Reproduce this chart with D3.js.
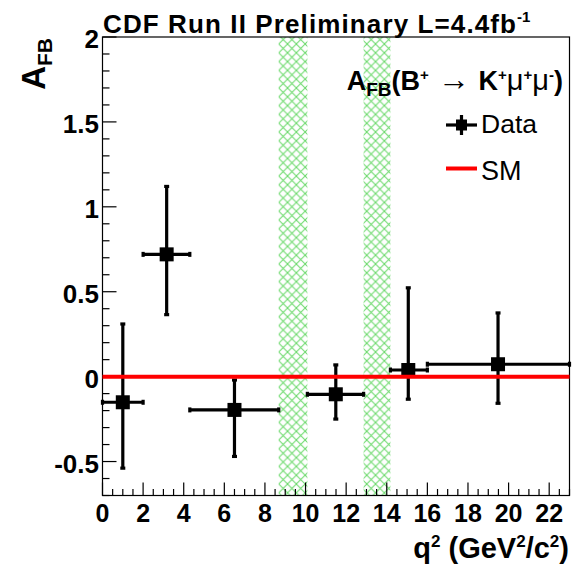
<!DOCTYPE html>
<html lang="en">
<head>
  <meta charset="UTF-8">
  <title>CDF AFB B+ -> K+ mu+ mu-</title>
  <script src="https://d3js.org/d3.v7.min.js"></script>
  <style>
    html, body { margin: 0; padding: 0; background: #fff; }
    svg text { font-family: "Liberation Sans", Arial, sans-serif; fill: #000; }
  </style>
</head>
<body>
<svg id="chart" width="579" height="569"></svg>
<script>
// data
const binLo  = [0, 2, 4.3, 10.09, 14.18, 16];
const binHi  = [2, 4.3, 8.68, 12.86, 16, 23];
const q2     = [1.0, 3.16, 6.5, 11.49, 15.06, 19.48];
const afb    = [-0.151, 0.72, -0.196, -0.104, 0.039, 0.073];
const afbHi  = [0.31, 1.12, -0.02, 0.069, 0.523, 0.375];   // top of error bar
const afbLo  = [-0.539, 0.365, -0.47, -0.25, -0.133, -0.157]; // bottom of error bar
const vetoLo = [8.68, 12.86];
const vetoHi = [10.09, 14.18];
const smValue = 0;
const xTicks = d3.range(0, 23, 2);
const yTicks = [-0.5, 0, 0.5, 1, 1.5, 2];

const svg = d3.select('#chart');
const padL = 102.5, padR = 569.5, padT = 37, padB = 495.5;

const x = d3.scaleLinear().domain([0, 23]).range([padL, padR]);
const y = d3.scaleLinear().domain([-0.7, 2]).range([padB, padT]);

// hatch pattern for the vetoed regions
const defs = svg.append('defs');
const pat = defs.append('pattern')
  .attr('id', 'hatch')
  .attr('patternUnits', 'userSpaceOnUse')
  .attr('x', x(vetoLo[0]))
  .attr('width', 8.8).attr('height', 8.8);
pat.append('path').attr('d', 'M0,0 L8.8,8.8 M8.8,0 L0,8.8')
  .attr('stroke', '#66d866').attr('stroke-width', 1).attr('fill', 'none');

svg.append('g').selectAll('rect')
  .data(vetoLo)
  .enter().append('rect')
  .attr('x', (d, i) => x(d))
  .attr('width', (d, i) => x(vetoHi[i]) - x(d))
  .attr('y', padT)
  .attr('height', padB - padT)
  .attr('fill', 'url(#hatch)');

// frame
svg.append('rect')
  .attr('x', padL).attr('y', padT)
  .attr('width', padR - padL).attr('height', padB - padT)
  .attr('fill', 'none').attr('stroke', '#000').attr('stroke-width', 1.2);

// ticks (drawn inward like ROOT)
const ticks = svg.append('g').attr('stroke', '#000').attr('stroke-width', 1.2);
d3.range(0, 23.01, 0.5).forEach(v => {
  const major = Math.abs(v % 2) < 1e-6;
  ticks.append('line')
    .attr('x1', x(v)).attr('x2', x(v))
    .attr('y1', padB).attr('y2', padB - (major ? 13 : 6.5));
});
d3.range(-0.7, 2.001, 0.1).forEach(v => {
  const major = Math.abs(Math.round(v * 10) % 5) === 0;
  ticks.append('line')
    .attr('x1', padL).attr('x2', padL + (major ? 14 : 7))
    .attr('y1', y(v)).attr('y2', y(v));
});

// tick labels
svg.append('g').selectAll('text')
  .data(xTicks)
  .enter().append('text')
  .attr('x', d => x(d))
  .attr('y', 522)
  .attr('text-anchor', 'middle')
  .attr('font-size', 25)
  .attr('font-weight', 'bold')
  .text(d => d);

svg.append('g').selectAll('text')
  .data(yTicks)
  .enter().append('text')
  .attr('x', 99)
  .attr('y', d => y(d) + 11)
  .attr('text-anchor', 'end')
  .attr('font-size', 26)
  .attr('font-weight', 'bold')
  .text(d => d);

// axis titles
const xt = svg.append('text')
  .attr('x', 569).attr('y', 558)
  .attr('text-anchor', 'end')
  .attr('font-size', 29)
  .attr('font-weight', 'bold');
xt.append('tspan').text('q');
xt.append('tspan').attr('font-size', 17).attr('dy', -11).text('2');
xt.append('tspan').attr('dy', 11).text(' (GeV');
xt.append('tspan').attr('font-size', 17).attr('dy', -11).text('2');
xt.append('tspan').attr('dy', 11).text('/c');
xt.append('tspan').attr('font-size', 17).attr('dy', -11).text('2');
xt.append('tspan').attr('dy', 11).text(')');

const yt = svg.append('text')
  .attr('transform', 'translate(45,38) rotate(-90)')
  .attr('text-anchor', 'end')
  .attr('font-size', 33)
  .attr('font-weight', 'bold');
yt.append('tspan').text('A');
yt.append('tspan').attr('font-size', 21).attr('dy', 7).text('FB');

// header
svg.append('text')
  .attr('x', 103).attr('y', 33)
  .attr('font-size', 26)
  .attr('font-weight', 'bold')
  .attr('textLength', 413)
  .attr('lengthAdjust', 'spacing')
  .text('CDF Run II Preliminary L=4.4fb');
svg.append('text')
  .attr('x', 517).attr('y', 22)
  .attr('font-size', 15)
  .attr('font-weight', 'bold')
  .text('-1');

// data points with error bars
const pts = svg.append('g');
afb.forEach((v, i) => {
  const g = pts.append('g').attr('stroke', '#000').attr('stroke-width', 3.2);
  g.append('line').attr('x1', x(binLo[i])).attr('x2', x(binHi[i])).attr('y1', y(v)).attr('y2', y(v));
  g.append('line').attr('x1', x(q2[i])).attr('x2', x(q2[i])).attr('y1', y(afbHi[i])).attr('y2', y(afbLo[i]));
  // small end caps
  [[x(binLo[i]), y(v), 0], [x(binHi[i]), y(v), 0], [x(q2[i]), y(afbHi[i]), 1], [x(q2[i]), y(afbLo[i]), 1]]
    .forEach(([cx, cy, vert]) => {
      g.append('line')
        .attr('x1', vert ? cx - 2.5 : cx).attr('x2', vert ? cx + 2.5 : cx)
        .attr('y1', vert ? cy : cy - 2.5).attr('y2', vert ? cy : cy + 2.5);
    });
  pts.append('rect')
    .attr('x', x(q2[i]) - 7).attr('y', y(v) - 7)
    .attr('width', 14).attr('height', 14)
    .attr('fill', '#000');
});

// SM prediction
svg.append('line')
  .attr('x1', padL).attr('x2', padR)
  .attr('y1', y(smValue)).attr('y2', y(smValue))
  .attr('stroke', '#ff0000').attr('stroke-width', 4);

// legend
const lg = svg.append('g');
const lt = lg.append('text').attr('x', 563).attr('y', 90).attr('text-anchor', 'end')
  .attr('font-size', 27).attr('font-weight', 'bold');
lt.append('tspan').text('A');
lt.append('tspan').attr('font-size', 19).attr('dy', 6).text('FB');
lt.append('tspan').attr('dy', -6).text('(B');
lt.append('tspan').attr('font-size', 15).attr('dy', -10).text('+');
lt.append('tspan').attr('dy', 10).attr('font-weight', 'normal').attr('font-size', 32).text(' \u2192 ');
lt.append('tspan').text('K');
lt.append('tspan').attr('font-size', 15).attr('dy', -10).text('+');
lt.append('tspan').attr('dy', 10).attr('font-weight', 'normal').attr('font-size', 29).text('\u03bc');
lt.append('tspan').attr('font-size', 15).attr('dy', -10).text('+');
lt.append('tspan').attr('dy', 10).attr('font-weight', 'normal').attr('font-size', 29).text('\u03bc');
lt.append('tspan').attr('font-size', 15).attr('dy', -10).text('-');
lt.append('tspan').attr('dy', 10).text(')');

const lm = lg.append('g').attr('stroke', '#000').attr('stroke-width', 3.2);
lm.append('line').attr('x1', 446).attr('x2', 477).attr('y1', 125).attr('y2', 125);
lm.append('line').attr('x1', 461.5).attr('x2', 461.5).attr('y1', 115).attr('y2', 135);
lg.append('rect').attr('x', 456).attr('y', 119.5).attr('width', 11).attr('height', 11).attr('fill', '#000');
lg.append('text').attr('x', 481).attr('y', 133).attr('font-size', 26.5).text('Data');

lg.append('line').attr('x1', 446).attr('x2', 477).attr('y1', 168.5).attr('y2', 168.5)
  .attr('stroke', '#ff0000').attr('stroke-width', 4);
lg.append('text').attr('x', 481).attr('y', 179.5).attr('font-size', 27).text('SM');
</script>
</body>
</html>
